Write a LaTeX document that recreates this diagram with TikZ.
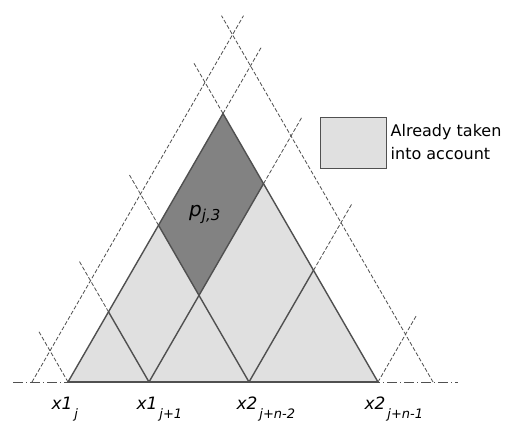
\documentclass[tikz,border=0pt]{standalone}
\usepackage{fontspec}
\setmainfont{DejaVu Sans}
\usetikzlibrary{calc}

\definecolor{lightfill}{RGB}{224,224,224}
\definecolor{darkfill}{RGB}{130,130,130}
\definecolor{edgegray}{RGB}{80,80,80}

\newcommand*{\xA}{32}
\newcommand*{\xB}{68}
\newcommand*{\xC}{149}
\newcommand*{\xD}{249}
\newcommand*{\xE}{378}
\newcommand*{\xF}{433}
\newcommand*{\ext}{22}

% crossing of the / line from #2 with the \ line from #3
\newcommand*{\crosspt}[3]{\coordinate (#1) at ({(#2+#3)/2},{(#3-#2)*0.866});}
\newcommand*{\lbl}[2]{\textit{#1}\rlap{\hspace{2pt}\raisebox{-9pt}{\fontsize{13}{13}\selectfont\textit{#2}}}}

\begin{document}
\begin{tikzpicture}
[
	x=1pt,y=1pt,
	edge/.style={edgegray,line width=1.4pt},
	guide/.style={edgegray,line width=0.8pt,dash pattern=on 4pt off 2pt},
	axis/.style={edgegray,line width=1pt,dash pattern=on 10pt off 3pt on 1pt off 3pt},
	xlabel/.style={anchor=base,inner sep=0pt,font=\fontsize{17}{17}\selectfont},
	legendbox/.style={draw=edgegray,line width=1pt,fill=lightfill,minimum width=66pt,minimum height=51pt,inner sep=0pt}
]
	\useasboundingbox (0,-39) rectangle (505,382);

	% points on the axis
	\coordinate (a) at (\xA,0);
	\coordinate (b) at (\xB,0);
	\coordinate (c) at (\xC,0);
	\coordinate (d) at (\xD,0);
	\coordinate (e) at (\xE,0);
	\coordinate (f) at (\xF,0);
	\coordinate (axl) at (13,0);
	\coordinate (axr) at (458,0);

	% crossings inside
	\crosspt{top}{\xB}{\xE}
	\crosspt{ce}{\xC}{\xE}
	\crosspt{de}{\xD}{\xE}
	\crosspt{bc}{\xB}{\xC}
	\crosspt{bd}{\xB}{\xD}
	\crosspt{cd}{\xC}{\xD}
	% crossings with the outer lines
	\crosspt{af}{\xA}{\xF}
	\crosspt{bf}{\xB}{\xF}
	\crosspt{cf}{\xC}{\xF}
	\crosspt{df}{\xD}{\xF}
	\crosspt{ef}{\xE}{\xF}
	\crosspt{ae}{\xA}{\xE}
	\crosspt{ad}{\xA}{\xD}
	\crosspt{ac}{\xA}{\xC}
	\crosspt{ab}{\xA}{\xB}

	% areas
	\fill[lightfill] (b) -- (e) -- (top) -- cycle;
	\fill[darkfill] (top) -- (ce) -- (cd) -- (bd) -- cycle;

	% axis
	\draw[axis] (axl) -- (axr);

	% dashed lines
	\draw[guide] (a) -- ($(af)+(60:\ext)$);
	\draw[guide] (f) -- ($(af)+(120:\ext)$);
	\draw[guide] (top) -- ($(bf)+(60:\ext)$);
	\draw[guide] (top) -- ($(ae)+(120:\ext)$);
	\draw[guide] (ce) -- ($(cf)+(60:\ext)$);
	\draw[guide] (de) -- ($(df)+(60:\ext)$);
	\draw[guide] (e) -- ($(ef)+(60:\ext)$);
	\draw[guide] (bd) -- ($(ad)+(120:\ext)$);
	\draw[guide] (bc) -- ($(ac)+(120:\ext)$);
	\draw[guide] (b) -- ($(ab)+(120:\ext)$);

	% solid lines
	\draw[edge] (b) -- (e);
	\draw[edge] (b) -- (top) -- (e);
	\draw[edge] (c) -- (ce);
	\draw[edge] (d) -- (de);
	\draw[edge] (c) -- (bc);
	\draw[edge] (d) -- (bd);

	% labels
	\node[xlabel] (lb) at ($(b)+(-6,-27)$) {\lbl{x1}{j}};
	\node[xlabel] (lc) at ($(c)+(-2,-27)$) {\lbl{x1}{j+1}};
	\node[xlabel] (ld) at ($(d)+(-2,-27)$) {\lbl{x2}{j+n-2}};
	\node[xlabel] (le) at ($(e)+(-3,-27)$) {\lbl{x2}{j+n-1}};
	\node[anchor=base west,inner sep=0pt,font=\fontsize{20}{20}\selectfont] (p) at (189,166)
		{\textit{p}\raisebox{-4pt}{\fontsize{15}{15}\selectfont\textit{j,3}}};

	% legend
	\node[legendbox] (key) at (353,239.5) {};
	\node[anchor=west,align=left,inner sep=0pt,font=\fontsize{16}{23}\selectfont] (keytext)
		at ($(key.east)+(4,0)$) {Already taken\\into account};

\end{tikzpicture}
\end{document}
